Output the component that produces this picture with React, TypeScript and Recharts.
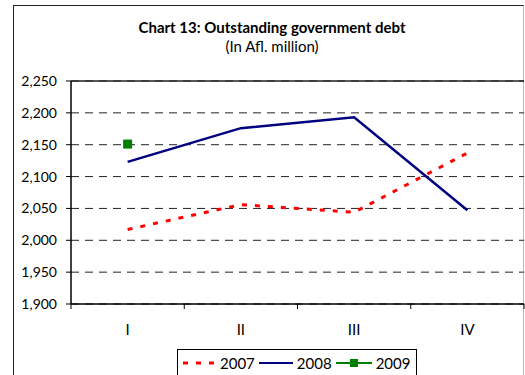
import { LineChart, Line, XAxis, YAxis, CartesianGrid, ReferenceLine } from 'recharts';

const QUARTERS = ['I', 'II', 'III', 'IV'];
const X_POS = [0.5, 1.5, 2.5, 3.5];
const DEBT_2007 = [2017, 2056, 2044, 2137];
const DEBT_2008 = [2123, 2176, 2193, 2047];
const DEBT_2009 = [2151, null, null, null];
const Y_TICKS = [1900, 1950, 2000, 2050, 2100, 2150, 2200, 2250];
const X_TICKS = [0, 0.5, 1, 1.5, 2, 2.5, 3, 3.5, 4];

const data = QUARTERS.map((q, i) => ({
  q,
  x: X_POS[i],
  y2007: DEBT_2007[i],
  y2008: DEBT_2008[i],
  y2009: DEBT_2009[i],
}));

const FONT = 'Lato, "Open Sans", sans-serif';

// ticks at the category borders, labels in the middle
function QuarterTick(props: any) {
  const { x, y, payload } = props;
  const v = payload.value as number;
  if (Number.isInteger(v)) {
    return <line x1={x} x2={x} y1={y} y2={y + 5} stroke="#000" strokeWidth={1} />;
  }
  const label = QUARTERS[Math.floor(v)];
  return (
    <text x={x} y={y + 20} dy="0.71em" textAnchor="middle" fontSize={15} fill="#000" fontFamily={FONT}>
      {label}
    </text>
  );
}

function SquareDot(props: any) {
  const { cx, cy, value } = props;
  if (value == null || cx == null || cy == null) return <g />;
  return <rect x={cx - 4.5} y={cy - 4.5} width={9} height={9} fill="#008000" />;
}

function LegendBox() {
  const item = { display: 'flex', alignItems: 'center' } as const;
  return (
    <div
      style={{
        position: 'absolute',
        left: 177,
        top: 349,
        width: 240,
        height: 30,
        border: '1px solid #000',
        background: '#fff',
        display: 'flex',
        alignItems: 'flex-start',
        paddingTop: 3,
        paddingLeft: 4,
        boxSizing: 'border-box',
        fontFamily: FONT,
        fontSize: 15,
        color: '#000',
      }}
    >
      <div style={item}>
        <svg width={34} height={20}>
          <line x1={1} x2={33} y1={10} y2={10} stroke="#ff0000" strokeWidth={3} strokeDasharray="5 8" />
        </svg>
        <span style={{ marginLeft: 4, marginRight: 4 }}>2007</span>
      </div>
      <div style={item}>
        <svg width={34} height={20}>
          <line x1={0} x2={34} y1={10} y2={10} stroke="#000080" strokeWidth={2} />
        </svg>
        <span style={{ marginLeft: 4, marginRight: 4 }}>2008</span>
      </div>
      <div style={item}>
        <svg width={36} height={20}>
          <line x1={0} x2={36} y1={10} y2={10} stroke="#008000" strokeWidth={2} />
          <rect x={14} y={6} width={8} height={8} fill="#008000" />
        </svg>
        <span style={{ marginLeft: 4 }}>2009</span>
      </div>
    </div>
  );
}

export default function App() {
  return (
    <div
      style={{
        position: 'absolute',
        left: 0,
        top: 0,
        width: 525,
        height: 375,
        overflow: 'hidden',
        background: '#fff',
        fontFamily: FONT,
      }}
    >
      <div
        style={{
          position: 'absolute',
          left: 13,
          top: 5,
          width: 509,
          height: 400,
          borderLeft: '1px solid #222',
          borderTop: '1px solid #222',
          borderRight: '1px solid #bbb',
        }}
      />
      <div style={{ position: 'absolute', left: 13, top: 18, width: 518, textAlign: 'center', color: '#000' }}>
        <div style={{ fontWeight: 'bold', fontSize: 15, lineHeight: '19px' }}>Chart 13: Outstanding government debt</div>
        <div style={{ fontSize: 15, lineHeight: '19px' }}>(In Afl. million)</div>
      </div>
      <div style={{ position: 'absolute', left: 0, top: 0 }}>
        <LineChart width={525} height={375} data={data} margin={{ top: 81, right: 1, bottom: 0, left: 13 }}>
          <CartesianGrid vertical={false} stroke="#222" strokeDasharray="8 6" />
          <XAxis
            dataKey="x"
            type="number"
            domain={[0, 4]}
            ticks={X_TICKS}
            interval={0}
            tickLine={false}
            tickSize={0}
            tickMargin={0}
            tick={<QuarterTick />}
            axisLine={{ stroke: '#000', strokeWidth: 1.5 }}
            height={71}
          />
          <YAxis
            domain={[1900, 2250]}
            ticks={Y_TICKS}
            interval={0}
            width={58}
            tickSize={5}
            tickMargin={9}
            tickFormatter={(v: number) => v.toLocaleString('en-US')}
            tick={{ fontSize: 14, fill: '#000', fontFamily: FONT }}
            tickLine={{ stroke: '#000' }}
            axisLine={{ stroke: '#000', strokeWidth: 1.5 }}
          />
          <ReferenceLine y={2250} stroke="#222" strokeWidth={1.5} />
          <Line
            dataKey="y2007"
            stroke="#ff0000"
            strokeWidth={3}
            strokeDasharray="5 8"
            dot={false}
            isAnimationActive={false}
          />
          <Line dataKey="y2008" stroke="#000080" strokeWidth={2.5} dot={false} isAnimationActive={false} />
          <Line
            dataKey="y2009"
            stroke="#008000"
            strokeWidth={2}
            dot={<SquareDot />}
            isAnimationActive={false}
          />
        </LineChart>
      </div>
      <LegendBox />
    </div>
  );
}
